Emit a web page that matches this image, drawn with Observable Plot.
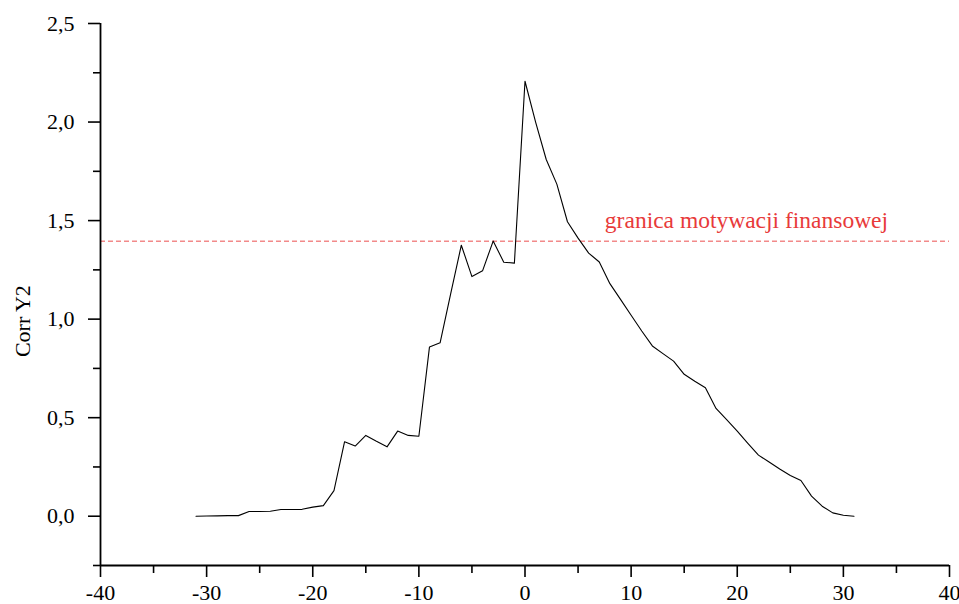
<!DOCTYPE html>
<html>
<head>
<meta charset="utf-8">
<script src="https://cdn.jsdelivr.net/npm/d3@7"></script>
<script src="https://cdn.jsdelivr.net/npm/@observablehq/plot@0.6"></script>
<style>
  html, body { margin: 0; padding: 0; background: #fff; }
  #chart svg { display: block; }
  #chart svg text { font-family: 'Liberation Serif', 'Times New Roman', serif; }
</style>
</head>
<body>
<div id="chart"></div>
<script>
const lags = [-31,-30,-29,-28,-27,-26,-25,-24,-23,-22,-21,-20,-19,-18,-17,-16,-15,-14,-13,-12,-11,-10,-9,-8,-7,-6,-5,-4,-3,-2,-1,0,1,2,3,4,5,6,7,8,9,10,11,12,13,14,15,16,17,18,19,20,21,22,23,24,25,26,27,28,29,30,31];
const corrY2 = [0.0,0.001,0.002,0.003,0.003,0.024,0.024,0.025,0.034,0.034,0.035,0.046,0.054,0.13,0.378,0.356,0.41,0.38,0.352,0.432,0.41,0.406,0.859,0.88,1.13,1.375,1.216,1.245,1.396,1.289,1.284,2.207,2.0,1.81,1.685,1.494,1.411,1.335,1.29,1.18,1.10,1.02,0.94,0.864,0.825,0.787,0.72,0.685,0.652,0.547,0.49,0.432,0.37,0.31,0.275,0.24,0.207,0.181,0.102,0.051,0.017,0.005,0.0];
const threshold = 1.395;
const thresholdLabel = "granica motywacji finansowej";
const yLabel = "Corr Y2";
const xMajorTicks = [-40,-30,-20,-10,0,10,20,30,40];
const xMinorTicks = [-35,-25,-15,-5,5,15,25,35];
const yMajorTicks = [0,0.5,1.0,1.5,2.0,2.5];
const yMinorTicks = [-0.25,0.25,0.75,1.25,1.75,2.25];

const data = lags.map((x, i) => ({x, y: corrY2[i]}));
const fmtY = d => d3.format(".1f")(d).replace(".", ",");
const serif = "'Liberation Serif', 'Times New Roman', serif";

const chart = Plot.plot({
  width: 959,
  height: 604,
  marginTop: 23,
  marginBottom: 39,
  marginLeft: 100,
  marginRight: 10,
  style: {fontFamily: serif, fontSize: "22px", color: "#000", background: "#fff"},
  x: {domain: [-40, 40]},
  y: {domain: [-0.25, 2.5]},
  marks: [
    Plot.ruleY([threshold], {stroke: "#f28a8a", strokeWidth: 1.6, strokeDasharray: "5,3"}),
    Plot.text([thresholdLabel], {x: () => 20.87, y: () => 1.5, text: d => d, fill: "#e83a3a", textAnchor: "middle", lineAnchor: "middle", fontSize: 23.5, fontFamily: serif}),
    Plot.line(data, {x: "x", y: "y", stroke: "#000", strokeWidth: 1.1}),
    Plot.axisX({ticks: xMajorTicks, tickSize: 12, tickPadding: 7, tickFormat: d => String(d), label: null, stroke: "#000", strokeOpacity: 1, strokeWidth: 1.6, fontFamily: serif, fontSize: 22, fill: "#000"}),
    Plot.axisX({ticks: xMinorTicks, tickSize: 8, tickFormat: () => "", label: null, stroke: "#000", strokeOpacity: 1, strokeWidth: 1.6}),
    Plot.axisY({ticks: yMajorTicks, tickSize: 12, tickPadding: 14, tickFormat: fmtY, label: null, stroke: "#000", strokeOpacity: 1, strokeWidth: 1.6, fontFamily: serif, fontSize: 22, fill: "#000"}),
    Plot.axisY({ticks: yMinorTicks, tickSize: 7, tickFormat: () => "", label: null, stroke: "#000", strokeOpacity: 1, strokeWidth: 1.6}),
    Plot.ruleX([-40], {stroke: "#000", strokeWidth: 1.8}),
    Plot.ruleY([-0.25], {stroke: "#000", strokeWidth: 1.8}),
    Plot.text([yLabel], {x: () => -40, y: () => 0.99, text: d => d, rotate: -90, dx: -78, textAnchor: "middle", fill: "#000", fontSize: 22, fontFamily: serif})
  ]
});
document.getElementById("chart").appendChild(chart);
</script>
</body>
</html>
